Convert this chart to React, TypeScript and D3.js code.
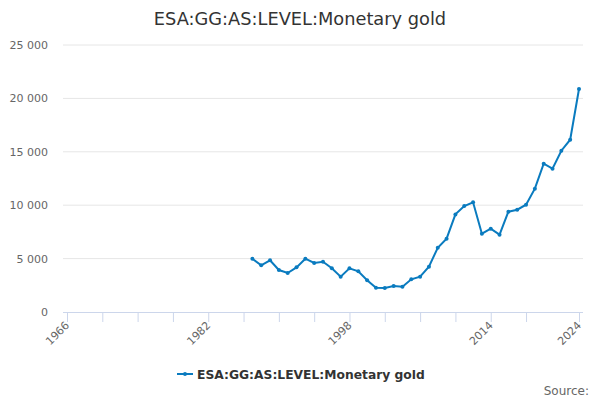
import * as d3 from "d3";

const years: number[] = [
  1987, 1988, 1989, 1990, 1991, 1992, 1993, 1994, 1995, 1996, 1997, 1998, 1999,
  2000, 2001, 2002, 2003, 2004, 2005, 2006, 2007, 2008, 2009, 2010, 2011, 2012,
  2013, 2014, 2015, 2016, 2017, 2018, 2019, 2020, 2021, 2022, 2023, 2024,
];
const values: number[] = [
  4990, 4370, 4840, 3930, 3650, 4180, 4990, 4590, 4710, 4090, 3310, 4090, 3810,
  2970, 2280, 2250, 2430, 2370, 3060, 3310, 4240, 6020, 6870, 9140, 9920, 10270,
  7330, 7800, 7240, 9390, 9580, 10050, 11550, 13890, 13420, 15100, 16130, 20880,
];
const xTicks: number[] = [
  1966, 1970, 1974, 1978, 1982, 1986, 1990, 1994, 1998, 2002, 2006, 2010, 2014, 2018, 2024,
];
const xLabels: number[] = [1966, 1982, 1998, 2014, 2024];
const yTicks: number[] = [0, 5000, 10000, 15000, 20000, 25000];

const title = "ESA:GG:AS:LEVEL:Monetary gold";
const color = "#0a7bbf";
const font = "'DejaVu Sans', sans-serif";

export default function App() {
  const width = 600;
  const height = 400;
  const left = 63;
  const right = 583;

  const x = d3.scaleLinear().domain([1966, 2024]).range([67, 579]);
  const y = d3.scaleLinear().domain([0, 25000]).range([312, 45]);

  const fmt = (v: number) => d3.format(",")(v).replace(/,/g, " ");

  const points = years.map((yr, i) => [yr, values[i]] as [number, number]);
  const line = d3
    .line<[number, number]>()
    .x((d) => x(d[0]))
    .y((d) => y(d[1]));

  return (
    <svg
      width={width}
      height={height}
      style={{ position: "absolute", left: 0, top: 0, fontFamily: font }}
    >
      <rect width={width} height={height} fill="#fff" />
      <text x={300} y={24.5} textAnchor="middle" fontSize={17.8} fill="#333">
        {title}
      </text>

      {yTicks.map((t) => (
        <g key={t}>
          {t > 0 && (
            <line x1={left} x2={right} y1={y(t)} y2={y(t)} stroke="#e6e6e6" />
          )}
          <text
            x={48}
            y={y(t) + 4}
            textAnchor="end"
            fontSize={11}
            fill="#666"
          >
            {fmt(t)}
          </text>
        </g>
      ))}

      <line x1={left} x2={right} y1={312.5} y2={312.5} stroke="#ccd6eb" />
      {xTicks.map((t) => (
        <line
          key={t}
          x1={x(t) + 0.5}
          x2={x(t) + 0.5}
          y1={312}
          y2={322}
          stroke="#ccd6eb"
        />
      ))}
      {xLabels.map((t) => (
        <text
          key={t}
          transform={`translate(${x(t) + 3},${326}) rotate(-45)`}
          textAnchor="end"
          fontSize={11}
          fill="#666"
        >
          {t}
        </text>
      ))}

      <path d={line(points) || ""} fill="none" stroke={color} strokeWidth={2} />
      {points.map((p) => (
        <circle key={p[0]} cx={x(p[0])} cy={y(p[1])} r={2} fill={color} />
      ))}

      <g>
        <line x1={177} x2={193} y1={374} y2={374} stroke={color} strokeWidth={2} />
        <circle cx={185} cy={374} r={2} fill={color} />
        <text x={197} y={378.5} fontSize={12.3} fontWeight="bold" fill="#333">
          {"ESA:GG:AS:LEVEL:Monetary gold"}
        </text>
      </g>

      <text x={589} y={395} textAnchor="end" fontSize={12} fill="#666">
        Source:
      </text>
    </svg>
  );
}
